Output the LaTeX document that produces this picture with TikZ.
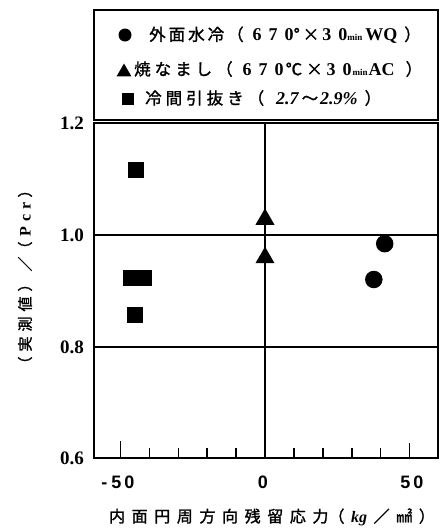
\documentclass[tikz,border=0pt]{standalone}
\usepackage{fontspec}
\setmainfont{Liberation Serif}
\newfontfamily\jp{Noto Sans CJK JP}[AutoFakeBold=1.5]
\newfontfamily\nsans{Liberation Sans}
\usetikzlibrary{shapes.geometric}
\newcommand\gp{\hspace{6.6pt}}
\newcommand\dg{\hspace{7pt}}
\newcommand\ssp{\hspace{3pt}}
\newcommand\numf{\rmfamily\bfseries\fontsize{18}{18}\selectfont}
\newcommand\minf{\rmfamily\bfseries\fontsize{9}{9}\selectfont}
\begin{document}
\begin{tikzpicture}[x=1pt,y=-1pt,
  frame/.style={line width=1.8pt},
  gridline/.style={line width=1.4pt},
  tickline/.style={line width=1.6pt},
  sq/.style={fill=black,draw=none,minimum size=16pt,inner sep=0pt,rectangle},
  tri/.style={fill=black,draw=none,regular polygon,regular polygon sides=3,minimum size=22pt,inner sep=0pt},
  dot/.style={fill=black,draw=none,circle,minimum size=17.5pt,inner sep=0pt},
  legtext/.style={anchor=west,inner sep=0pt,font=\jp\bfseries\fontsize{16.5}{16.5}\selectfont},
  ylab/.style={anchor=east,inner sep=0pt,font=\bfseries\fontsize{19}{19}\selectfont},
  xlab/.style={anchor=center,inner sep=0pt,font=\nsans\bfseries\fontsize{18}{18}\selectfont}]
\useasboundingbox (0,0) rectangle (442,528);
% legend box and plot frame
\draw[frame] (94,10) rectangle (438,120);
\draw[frame] (94,123) rectangle (438,458);
\draw[gridline] (94,235) -- (438,235);
\draw[gridline] (94,347) -- (438,347);
\draw[gridline] (265,123) -- (265,458);
% bottom ticks
\foreach \k in {-4,-3,-2,-1,1,2,3,4}
  \draw[tickline] (265+\k*28.9,458) -- ++(0,-10);
\draw[tickline] (265-5*28.9,458) -- ++(0,-17);
\draw[tickline] (265+5*28.9,458) -- ++(0,-15);
% y tick labels
\node[ylab] (y12) at (84,123) {1.2};
\node[ylab] (y10) at (84,235) {1.0};
\node[ylab] (y08) at (84,347) {0.8};
\node[ylab] (y06) at (84,458) {0.6};
% x tick labels
\node[xlab] (xm50) at (118,482) {-\hspace{4pt}5\hspace{3pt}0};
\node[xlab] (x0) at (263,482) {0};
\node[xlab] (x50) at (412,482) {5\hspace{3pt}0};
% axis titles
\node[inner sep=0pt,font=\jp\bfseries\fontsize{16}{16}\selectfont] (xt) at (272,517)
  {内\gp 面\gp 円\gp 周\gp 方\gp 向\gp 残\gp 留\gp 応\gp 力（\gp{\rmfamily\itshape\bfseries kg}\gp ／\gp ㎟\gp ）};
\node[rotate=90,inner sep=0pt,font=\jp\bfseries\fontsize{15}{15}\selectfont] (yt) at (25,277)
  {（\hspace{5pt}実\hspace{5pt}測\hspace{5pt}値\hspace{5pt}）\hspace{5pt}／（\hspace{5pt}{\rmfamily\bfseries\fontsize{16}{16}\selectfont P\hspace{5pt}c\hspace{5pt}r}\hspace{5pt}）};
% data: squares
\node[sq] (s1) at (135.8,170) {};
\node[sq] (s2) at (131.3,277.8) {};
\node[sq] (s3) at (143.7,277.8) {};
\node[sq] (s4) at (134.5,314.5) {};
% triangles
\node[tri] (t1) at (265,219.3) {};
\node[tri] (t2) at (265,257.7) {};
% circles
\node[dot] (c1) at (384.7,243.7) {};
\node[dot] (c2) at (373.8,279.5) {};
% legend
\node[dot,minimum size=13pt] (lc) at (125,35) {};
\node[tri,minimum size=17pt] (lt) at (124,72) {};
\node[sq,minimum size=12pt] (ls) at (127.5,99) {};
\node[legtext] (l1) at (149,35)
  {外\ssp 面\ssp 水\ssp 冷\ssp （\hspace{9pt}{\numf 6\dg 7\dg 0}°\ssp×\ssp{\numf 3\dg 0}{\minf min}\ssp{\numf WQ}\hspace{7pt}）};
\node[legtext] (l2) at (134,69)
  {焼\hspace{4pt}な\hspace{4pt}ま\hspace{4pt}し\hspace{4pt}（\hspace{10pt}{\numf 6\dg 7\dg 0}\hspace{2pt}℃\hspace{4pt}×\hspace{4pt}{\numf 3\dg 0}\hspace{1pt}{\minf min}\hspace{1pt}{\numf AC}\hspace{11pt}）};
\node[legtext] (l3) at (145,98)
  {冷\hspace{4pt}間\hspace{4pt}引\hspace{4pt}抜\hspace{4pt}き\hspace{4pt}（\hspace{12pt}{\numf\itshape 2.7\hspace{3pt}}〜{\numf\itshape\hspace{2pt}2.9\%}\hspace{7pt}）};
\end{tikzpicture}
\end{document}
